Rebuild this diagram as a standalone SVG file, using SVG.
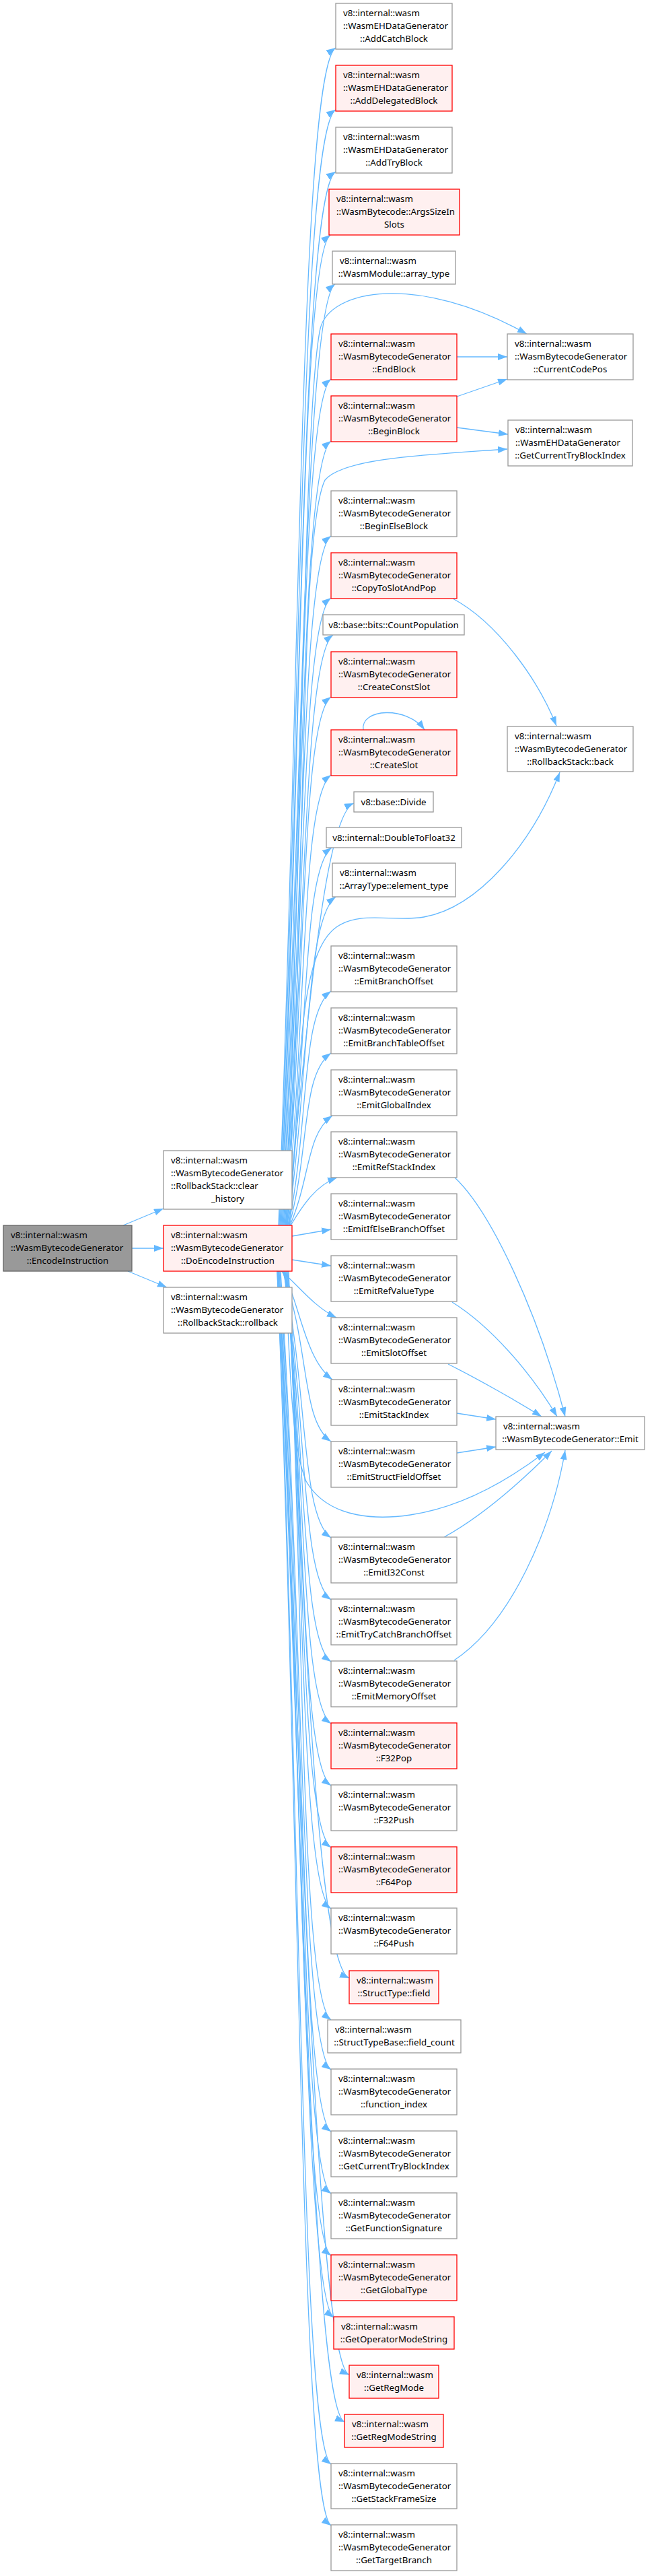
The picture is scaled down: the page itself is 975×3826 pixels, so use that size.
<svg xmlns="http://www.w3.org/2000/svg" width="975" height="3826" viewBox="0 0 975 3826">
<style>
text{font-family:"Noto Sans","Open Sans","Liberation Sans",sans-serif;font-size:13.3px;fill:#000}
.c{text-anchor:middle}
.w{fill:#fff;stroke:#999;stroke-width:1.3}
.r{fill:#fff0f0;stroke:#f00;stroke-width:1.3}
.g{fill:#999;stroke:#666;stroke-width:1.3}
.e{fill:none;stroke:#63b8ff;stroke-width:1.3;marker-end:url(#ah)}
</style>
<defs>
<marker id="ah" markerUnits="userSpaceOnUse" markerWidth="16" markerHeight="12" refX="14" refY="5" orient="auto">
<path d="M0,0 L14,5 L0,10 z" fill="#63b8ff"/>
</marker>
</defs>
<rect width="975" height="3826" fill="#fff"/>
<g id="edges">
<path class="e" d="M183,1820 L243,1795"/>
<path class="e" d="M196,1854 L243,1854"/>
<path class="e" d="M190,1888 L248,1912"/>
<path class="e" d="M414,1820 C446,1033 446,106 499,71"/>
<path class="e" d="M415,1820 C447,1074 447,196 499,163"/>
<path class="e" d="M416,1820 C448,1116 448,288 499,255"/>
<path class="e" d="M417,1820 C448,1158 446,382 491,349"/>
<path class="e" d="M418,1820 C449,1191 453,455 498,422"/>
<path class="e" d="M419,1820 C450,1255 447,597 492,563"/>
<path class="e" d="M420,1820 C451,1296 447,689 492,655"/>
<path class="e" d="M421,1820 C452,1360 447,830 492,796"/>
<path class="e" d="M422,1820 C453,1401 447,922 492,888"/>
<path class="e" d="M423,1820 C454,1425 450,976 495,943"/>
<path class="e" d="M424,1820 C455,1467 447,1069 492,1035"/>
<path class="e" d="M425,1820 C456,1519 447,1185 492,1151"/>
<path class="e" d="M426,1820 C457,1536 480,1212 526,1193"/>
<path class="e" d="M427,1820 C458,1568 448,1292 493,1259"/>
<path class="e" d="M428,1820 C459,1600 454,1365 499,1332"/>
<path class="e" d="M429,1820 C460,1664 447,1506 492,1472"/>
<path class="e" d="M430,1820 C461,1705 447,1597 492,1564"/>
<path class="e" d="M431,1820 C462,1747 455,1685 494,1657"/>
<path class="e" d="M432,1820 C450,1790 470,1760 501,1749"/>
<path class="e" d="M434,1836 L492,1826"/>
<path class="e" d="M434,1871 L492,1880"/>
<path class="e" d="M418,1888 C440,1905 465,1940 500,1957"/>
<path class="e" d="M419,1888 C445,1930 452,2018 494,2049"/>
<path class="e" d="M420,1888 C461,2002 447,2109 492,2141"/>
<path class="e" d="M421,1888 C458,2066 447,2252 492,2284"/>
<path class="e" d="M422,1888 C457,2107 447,2344 492,2376"/>
<path class="e" d="M423,1888 C456,2149 447,2436 492,2468"/>
<path class="e" d="M424,1888 C455,2190 447,2528 492,2560"/>
<path class="e" d="M425,1888 C454,2231 447,2620 492,2652"/>
<path class="e" d="M426,1888 C453,2273 447,2712 492,2744"/>
<path class="e" d="M427,1888 C452,2314 447,2803 492,2835"/>
<path class="e" d="M428,1888 C451,2360 470,2918 519,2938"/>
<path class="e" d="M429,1888 C451,2388 447,2968 492,3000"/>
<path class="e" d="M417,1888 C451,2421 447,3042 492,3074"/>
<path class="e" d="M416,1888 C451,2463 447,3134 492,3166"/>
<path class="e" d="M415,1888 C450,2504 447,3226 492,3258"/>
<path class="e" d="M414,1888 C449,2545 447,3318 492,3350"/>
<path class="e" d="M414,1888 C449,2587 451,3410 496,3442"/>
<path class="e" d="M413,1888 C448,2622 470,3507 519,3527"/>
<path class="e" d="M413,1888 C448,2653 463,3577 512,3597"/>
<path class="e" d="M412,1888 C447,2685 447,3628 492,3660"/>
<path class="e" d="M412,1888 C446,2726 447,3719 492,3751"/>
<path class="e" d="M425,1820 C450,1200 452,600 476,488 C490,430 620,405 783,496"/>
<path class="e" d="M427,1820 C455,1300 445,790 483,713 C510,680 640,675 754,667"/>
<path class="e" d="M430,1820 C448,1600 440,1420 500,1377 C535,1352 585,1370 630,1362 C710,1348 790,1255 832,1147"/>
<path class="e" d="M673,889 C740,925 800,1010 827,1078"/>
<path class="e" d="M679,530 L754,530"/>
<path class="e" d="M679,589 L754,563"/>
<path class="e" d="M679,635 L755,645"/>
<path class="e" d="M540,1084 C535,1052 605,1048 631,1084"/>
<path class="e" d="M676,1749 C730,1800 800,1950 840,2104"/>
<path class="e" d="M672,1934 C730,1970 790,2040 828,2104"/>
<path class="e" d="M666,2026 C710,2048 770,2082 805,2104"/>
<path class="e" d="M679,2099 L737,2108"/>
<path class="e" d="M679,2158 L737,2149"/>
<path class="e" d="M423,1888 C432,2010 430,2140 455,2200 C490,2260 570,2256 610,2250 C690,2238 760,2195 810,2157"/>
<path class="e" d="M660,2283 C720,2250 780,2195 820,2155"/>
<path class="e" d="M675,2466 C760,2410 820,2270 840,2154"/>
</g>
<g id="encode"><rect class="g" x="5" y="1820" width="191" height="68"/><text x="16" y="1838.5">v8::internal::wasm</text><text x="16" y="1857.5">::WasmBytecodeGenerator</text><text class="c" x="100.5" y="1876.5">::EncodeInstruction</text></g>
<g id="clear_history"><rect class="w" x="243" y="1709" width="191" height="87"/><text x="254" y="1727.5">v8::internal::wasm</text><text x="254" y="1746.5">::WasmBytecodeGenerator</text><text x="254" y="1765.5">::RollbackStack::clear</text><text class="c" x="338.5" y="1784.5">_history</text></g>
<g id="do_encode"><rect class="r" x="243" y="1820" width="191" height="68"/><text x="254" y="1838.5">v8::internal::wasm</text><text x="254" y="1857.5">::WasmBytecodeGenerator</text><text class="c" x="338.5" y="1876.5">::DoEncodeInstruction</text></g>
<g id="rollback"><rect class="w" x="243" y="1912" width="191" height="68"/><text x="254" y="1930.5">v8::internal::wasm</text><text x="254" y="1949.5">::WasmBytecodeGenerator</text><text class="c" x="338.5" y="1968.5">::RollbackStack::rollback</text></g>
<g id="add_catch"><rect class="w" x="499" y="5" width="173" height="68"/><text x="510" y="23.5">v8::internal::wasm</text><text x="510" y="42.5">::WasmEHDataGenerator</text><text class="c" x="585.5" y="61.5">::AddCatchBlock</text></g>
<g id="add_delegated"><rect class="r" x="499" y="97" width="173" height="68"/><text x="510" y="115.5">v8::internal::wasm</text><text x="510" y="134.5">::WasmEHDataGenerator</text><text class="c" x="585.5" y="153.5">::AddDelegatedBlock</text></g>
<g id="add_try"><rect class="w" x="499" y="189" width="173" height="68"/><text x="510" y="207.5">v8::internal::wasm</text><text x="510" y="226.5">::WasmEHDataGenerator</text><text class="c" x="585.5" y="245.5">::AddTryBlock</text></g>
<g id="args_size"><rect class="r" x="489" y="281" width="194" height="68"/><text x="500" y="299.5">v8::internal::wasm</text><text x="500" y="318.5">::WasmBytecode::ArgsSizeIn</text><text class="c" x="586" y="337.5">Slots</text></g>
<g id="array_type"><rect class="w" x="494" y="373" width="183" height="49"/><text x="505" y="391.5">v8::internal::wasm</text><text class="c" x="585.5" y="410.5">::WasmModule::array_type</text></g>
<g id="end_block"><rect class="r" x="492" y="496" width="187" height="68"/><text x="503" y="514.5">v8::internal::wasm</text><text x="503" y="533.5">::WasmBytecodeGenerator</text><text class="c" x="585.5" y="552.5">::EndBlock</text></g>
<g id="begin_block"><rect class="r" x="492" y="588" width="187" height="68"/><text x="503" y="606.5">v8::internal::wasm</text><text x="503" y="625.5">::WasmBytecodeGenerator</text><text class="c" x="585.5" y="644.5">::BeginBlock</text></g>
<g id="begin_else"><rect class="w" x="492" y="729" width="187" height="68"/><text x="503" y="747.5">v8::internal::wasm</text><text x="503" y="766.5">::WasmBytecodeGenerator</text><text class="c" x="585.5" y="785.5">::BeginElseBlock</text></g>
<g id="copy_to_slot"><rect class="r" x="492" y="821" width="187" height="68"/><text x="503" y="839.5">v8::internal::wasm</text><text x="503" y="858.5">::WasmBytecodeGenerator</text><text class="c" x="585.5" y="877.5">::CopyToSlotAndPop</text></g>
<g id="count_pop"><rect class="w" x="480" y="913" width="210" height="30"/><text class="c" x="585" y="932.5">v8::base::bits::CountPopulation</text></g>
<g id="create_const"><rect class="r" x="492" y="968" width="187" height="68"/><text x="503" y="986.5">v8::internal::wasm</text><text x="503" y="1005.5">::WasmBytecodeGenerator</text><text class="c" x="585.5" y="1024.5">::CreateConstSlot</text></g>
<g id="create_slot"><rect class="r" x="492" y="1084" width="187" height="68"/><text x="503" y="1102.5">v8::internal::wasm</text><text x="503" y="1121.5">::WasmBytecodeGenerator</text><text class="c" x="585.5" y="1140.5">::CreateSlot</text></g>
<g id="divide"><rect class="w" x="526" y="1176" width="118" height="30"/><text class="c" x="585" y="1195.5">v8::base::Divide</text></g>
<g id="double_to_float"><rect class="w" x="485" y="1229" width="201" height="30"/><text class="c" x="585.5" y="1248.5">v8::internal::DoubleToFloat32</text></g>
<g id="element_type"><rect class="w" x="494" y="1282" width="183" height="50"/><text x="505" y="1300.5">v8::internal::wasm</text><text class="c" x="585.5" y="1319.5">::ArrayType::element_type</text></g>
<g id="emit_branch"><rect class="w" x="492" y="1405" width="187" height="68"/><text x="503" y="1423.5">v8::internal::wasm</text><text x="503" y="1442.5">::WasmBytecodeGenerator</text><text class="c" x="585.5" y="1461.5">::EmitBranchOffset</text></g>
<g id="emit_branch_table"><rect class="w" x="492" y="1497" width="187" height="68"/><text x="503" y="1515.5">v8::internal::wasm</text><text x="503" y="1534.5">::WasmBytecodeGenerator</text><text class="c" x="585.5" y="1553.5">::EmitBranchTableOffset</text></g>
<g id="emit_global"><rect class="w" x="492" y="1589" width="187" height="68"/><text x="503" y="1607.5">v8::internal::wasm</text><text x="503" y="1626.5">::WasmBytecodeGenerator</text><text class="c" x="585.5" y="1645.5">::EmitGlobalIndex</text></g>
<g id="emit_ref_stack"><rect class="w" x="492" y="1681" width="187" height="68"/><text x="503" y="1699.5">v8::internal::wasm</text><text x="503" y="1718.5">::WasmBytecodeGenerator</text><text class="c" x="585.5" y="1737.5">::EmitRefStackIndex</text></g>
<g id="emit_if_else"><rect class="w" x="492" y="1773" width="187" height="68"/><text x="503" y="1791.5">v8::internal::wasm</text><text x="503" y="1810.5">::WasmBytecodeGenerator</text><text class="c" x="585.5" y="1829.5">::EmitIfElseBranchOffset</text></g>
<g id="emit_ref_value"><rect class="w" x="492" y="1865" width="187" height="68"/><text x="503" y="1883.5">v8::internal::wasm</text><text x="503" y="1902.5">::WasmBytecodeGenerator</text><text class="c" x="585.5" y="1921.5">::EmitRefValueType</text></g>
<g id="emit_slot"><rect class="w" x="492" y="1957" width="187" height="68"/><text x="503" y="1975.5">v8::internal::wasm</text><text x="503" y="1994.5">::WasmBytecodeGenerator</text><text class="c" x="585.5" y="2013.5">::EmitSlotOffset</text></g>
<g id="emit_stack"><rect class="w" x="492" y="2049" width="187" height="68"/><text x="503" y="2067.5">v8::internal::wasm</text><text x="503" y="2086.5">::WasmBytecodeGenerator</text><text class="c" x="585.5" y="2105.5">::EmitStackIndex</text></g>
<g id="emit_struct_field"><rect class="w" x="492" y="2141" width="187" height="68"/><text x="503" y="2159.5">v8::internal::wasm</text><text x="503" y="2178.5">::WasmBytecodeGenerator</text><text class="c" x="585.5" y="2197.5">::EmitStructFieldOffset</text></g>
<g id="emit_i32"><rect class="w" x="492" y="2283" width="187" height="68"/><text x="503" y="2301.5">v8::internal::wasm</text><text x="503" y="2320.5">::WasmBytecodeGenerator</text><text class="c" x="585.5" y="2339.5">::EmitI32Const</text></g>
<g id="emit_try_catch"><rect class="w" x="492" y="2375" width="187" height="68"/><text x="503" y="2393.5">v8::internal::wasm</text><text x="503" y="2412.5">::WasmBytecodeGenerator</text><text class="c" x="585.5" y="2431.5">::EmitTryCatchBranchOffset</text></g>
<g id="emit_memory"><rect class="w" x="492" y="2467" width="187" height="68"/><text x="503" y="2485.5">v8::internal::wasm</text><text x="503" y="2504.5">::WasmBytecodeGenerator</text><text class="c" x="585.5" y="2523.5">::EmitMemoryOffset</text></g>
<g id="f32pop"><rect class="r" x="492" y="2559" width="187" height="68"/><text x="503" y="2577.5">v8::internal::wasm</text><text x="503" y="2596.5">::WasmBytecodeGenerator</text><text class="c" x="585.5" y="2615.5">::F32Pop</text></g>
<g id="f32push"><rect class="w" x="492" y="2651" width="187" height="68"/><text x="503" y="2669.5">v8::internal::wasm</text><text x="503" y="2688.5">::WasmBytecodeGenerator</text><text class="c" x="585.5" y="2707.5">::F32Push</text></g>
<g id="f64pop"><rect class="r" x="492" y="2743" width="187" height="68"/><text x="503" y="2761.5">v8::internal::wasm</text><text x="503" y="2780.5">::WasmBytecodeGenerator</text><text class="c" x="585.5" y="2799.5">::F64Pop</text></g>
<g id="f64push"><rect class="w" x="492" y="2834" width="187" height="68"/><text x="503" y="2852.5">v8::internal::wasm</text><text x="503" y="2871.5">::WasmBytecodeGenerator</text><text class="c" x="585.5" y="2890.5">::F64Push</text></g>
<g id="struct_field"><rect class="r" x="519" y="2927" width="133" height="49"/><text x="530" y="2945.5">v8::internal::wasm</text><text class="c" x="585.5" y="2964.5">::StructType::field</text></g>
<g id="field_count"><rect class="w" x="487" y="3000" width="198" height="49"/><text x="498" y="3018.5">v8::internal::wasm</text><text class="c" x="586" y="3037.5">::StructTypeBase::field_count</text></g>
<g id="function_index"><rect class="w" x="492" y="3073" width="187" height="68"/><text x="503" y="3091.5">v8::internal::wasm</text><text x="503" y="3110.5">::WasmBytecodeGenerator</text><text class="c" x="585.5" y="3129.5">::function_index</text></g>
<g id="get_cur_try"><rect class="w" x="492" y="3165" width="187" height="68"/><text x="503" y="3183.5">v8::internal::wasm</text><text x="503" y="3202.5">::WasmBytecodeGenerator</text><text class="c" x="585.5" y="3221.5">::GetCurrentTryBlockIndex</text></g>
<g id="get_func_sig"><rect class="w" x="492" y="3257" width="187" height="68"/><text x="503" y="3275.5">v8::internal::wasm</text><text x="503" y="3294.5">::WasmBytecodeGenerator</text><text class="c" x="585.5" y="3313.5">::GetFunctionSignature</text></g>
<g id="get_global_type"><rect class="r" x="492" y="3349" width="187" height="68"/><text x="503" y="3367.5">v8::internal::wasm</text><text x="503" y="3386.5">::WasmBytecodeGenerator</text><text class="c" x="585.5" y="3405.5">::GetGlobalType</text></g>
<g id="get_op_mode_str"><rect class="r" x="496" y="3441" width="179" height="48"/><text x="507" y="3459.5">v8::internal::wasm</text><text class="c" x="585.5" y="3478.5">::GetOperatorModeString</text></g>
<g id="get_reg_mode"><rect class="r" x="519" y="3513" width="133" height="49"/><text x="530" y="3531.5">v8::internal::wasm</text><text class="c" x="585.5" y="3550.5">::GetRegMode</text></g>
<g id="get_reg_mode_str"><rect class="r" x="512" y="3586" width="147" height="49"/><text x="523" y="3604.5">v8::internal::wasm</text><text class="c" x="585.5" y="3623.5">::GetRegModeString</text></g>
<g id="get_stack_frame"><rect class="w" x="492" y="3659" width="187" height="67"/><text x="503" y="3677.5">v8::internal::wasm</text><text x="503" y="3696.5">::WasmBytecodeGenerator</text><text class="c" x="585.5" y="3715.5">::GetStackFrameSize</text></g>
<g id="get_target_branch"><rect class="w" x="492" y="3750" width="187" height="68"/><text x="503" y="3768.5">v8::internal::wasm</text><text x="503" y="3787.5">::WasmBytecodeGenerator</text><text class="c" x="585.5" y="3806.5">::GetTargetBranch</text></g>
<g id="current_code_pos"><rect class="w" x="754" y="496" width="187" height="68"/><text x="765" y="514.5">v8::internal::wasm</text><text x="765" y="533.5">::WasmBytecodeGenerator</text><text class="c" x="847.5" y="552.5">::CurrentCodePos</text></g>
<g id="eh_get_cur_try"><rect class="w" x="755" y="624" width="185" height="68"/><text x="766" y="642.5">v8::internal::wasm</text><text x="766" y="661.5">::WasmEHDataGenerator</text><text class="c" x="847.5" y="680.5">::GetCurrentTryBlockIndex</text></g>
<g id="rollback_back"><rect class="w" x="754" y="1079" width="187" height="67"/><text x="765" y="1097.5">v8::internal::wasm</text><text x="765" y="1116.5">::WasmBytecodeGenerator</text><text class="c" x="847.5" y="1135.5">::RollbackStack::back</text></g>
<g id="emit"><rect class="w" x="737" y="2104" width="221" height="49"/><text x="748" y="2122.5">v8::internal::wasm</text><text class="c" x="847.5" y="2141.5">::WasmBytecodeGenerator::Emit</text></g>
</svg>
